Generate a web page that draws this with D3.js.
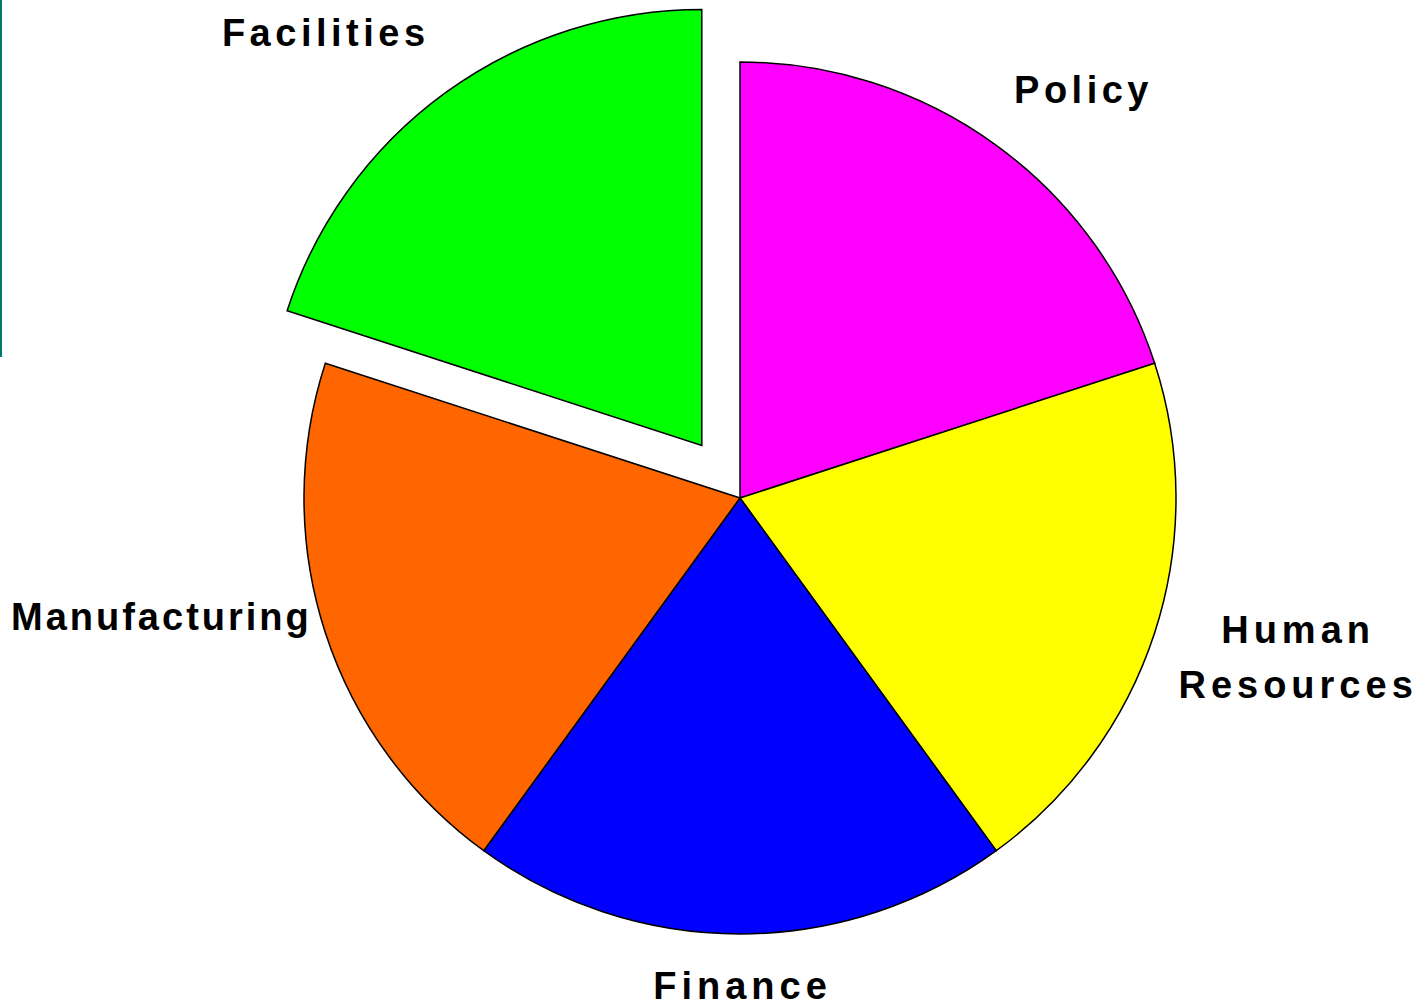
<!DOCTYPE html>
<html>
<head>
<meta charset="utf-8">
<title>Pie - departments</title>
<script src="https://cdn.jsdelivr.net/npm/d3@7/dist/d3.min.js"></script>
<style>
  html, body { margin: 0; padding: 0; background: #fff; }
  svg { display: block; }
  .label { font-family: "Liberation Sans", Arial, sans-serif; font-weight: bold; font-size: 38px; fill: #000; }
</style>
</head>
<body>
<script>
// data
var categories = ["Policy", "Human Resources", "Finance", "Manufacturing", "Facilities"];
var values = [20, 20, 20, 20, 20];
var colors = ["#ff00ff", "#ffff00", "#0000ff", "#ff6600", "#00ff00"];
var exploded = ["Facilities"];

var width = 1427, height = 1006,
    cx = 740, cy = 498,
    radius = 436,
    explode = 65;

// label placement: angle nudge (deg) from slice mid-angle, distance from slice centre, tracking
var labelLayout = {
  "Policy":          { nudge: 3.9,  dist: 532, ls: 4.5 },
  "Human Resources": { nudge: -2,   dist: 578, ls: 5 },
  "Finance":         { nudge: 0,    dist: 487, ls: 5 },
  "Manufacturing":   { nudge: 6.5,  dist: 592, ls: 3 },
  "Facilities":      { nudge: -6.5, dist: 560, ls: 4.5 }
};

var svg = d3.select("body").append("svg")
    .attr("width", width)
    .attr("height", height);

// thin teal rule at the left edge
svg.append("rect")
    .attr("x", 0).attr("y", 0)
    .attr("width", 2).attr("height", 357)
    .attr("fill", "#00786e");

var color = d3.scaleOrdinal().domain(categories).range(colors);

var pie = d3.pie().sort(null).value(function(d) { return d.value; });
var arc = d3.arc().innerRadius(0).outerRadius(radius);

var slices = pie(categories.map(function(c, i) { return { name: c, value: values[i] }; }));

function offset(d) {
  if (exploded.indexOf(d.data.name) < 0) return [0, 0];
  var a = (d.startAngle + d.endAngle) / 2;
  return [Math.sin(a) * explode, -Math.cos(a) * explode];
}

var g = svg.append("g").attr("transform", "translate(" + cx + "," + cy + ")");

g.selectAll("path.slice")
  .data(slices)
  .enter().append("path")
    .attr("class", "slice")
    .attr("d", arc)
    .attr("transform", function(d) { var o = offset(d); return "translate(" + o[0] + "," + o[1] + ")"; })
    .attr("fill", function(d) { return color(d.data.name); })
    .attr("stroke", "#000")
    .attr("stroke-width", 1.5)
    .attr("stroke-linejoin", "miter");

var labels = g.selectAll("text.label")
  .data(slices)
  .enter().append("text")
    .attr("class", "label")
    .attr("text-anchor", "middle")
    .style("letter-spacing", function(d) { return labelLayout[d.data.name].ls + "px"; })
    .attr("transform", function(d) {
      var o = offset(d), l = labelLayout[d.data.name];
      var a = (d.startAngle + d.endAngle) / 2 + l.nudge * Math.PI / 180;
      return "translate(" + (o[0] + Math.sin(a) * l.dist) + "," + (o[1] - Math.cos(a) * l.dist) + ")";
    });

labels.each(function(d) {
  var words = d.data.name.split(" ");
  var lh = 55;
  var first = 13.5 - (words.length - 1) * lh / 2;
  var t = d3.select(this);
  words.forEach(function(w, i) {
    t.append("tspan").attr("x", labelLayout[d.data.name].ls / 2).attr("y", first + i * lh).text(w);
  });
});
</script>
</body>
</html>
